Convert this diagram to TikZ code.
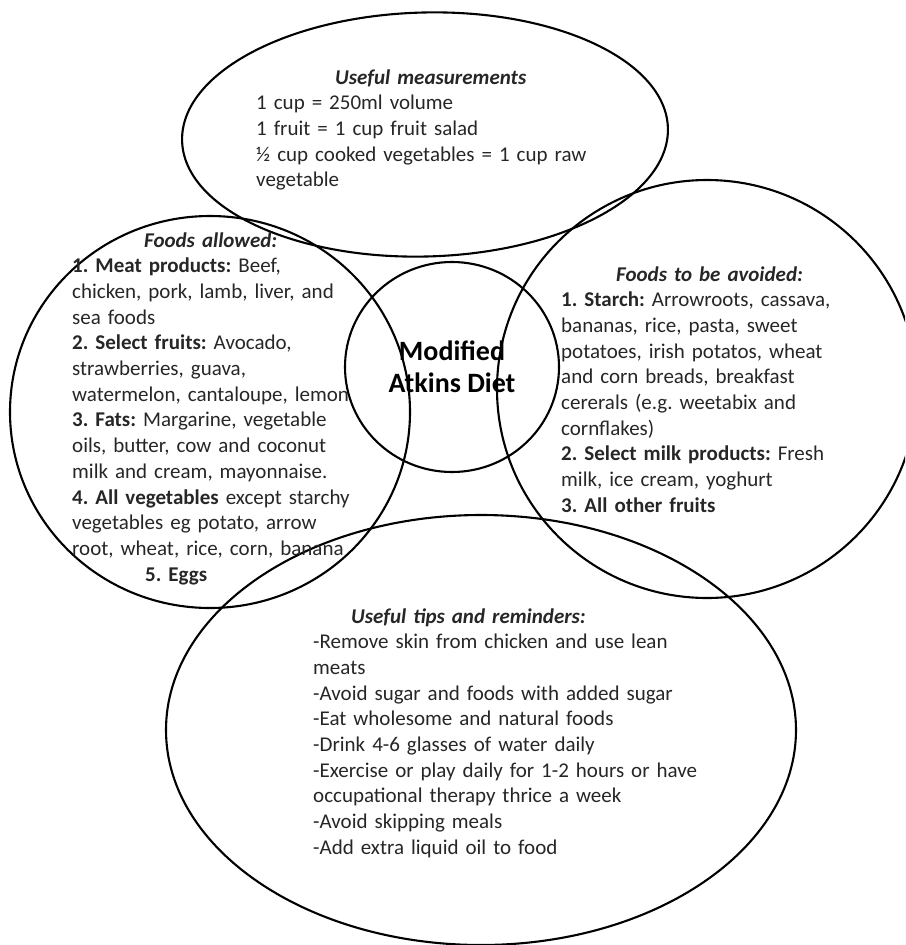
\documentclass[tikz,border=0pt]{standalone}
\usepackage{fontspec}
\setmainfont{Carlito}
\usepackage{tikz}
\usetikzlibrary{shapes.geometric, positioning}
\tikzstyle{bubble} = [ellipse, draw=black, line width=2.1pt, inner sep=0pt]
\tikzstyle{blurb} = [anchor=base west, inner sep=0pt, text width=420pt, align=left, text=black!85, font=\fontsize{21}{25.7}\selectfont\frenchspacing]
\newcommand{\head}[1]{\textbf{\textit{#1}}}

\begin{document}
\begin{tikzpicture}[x=1pt, y=-1pt]

\useasboundingbox (0,0) rectangle (905,945);
\clip (0,0) rectangle (905,945);

\node (meas) [bubble, minimum width=486pt, minimum height=244pt, rotate=1.5] at (425,134.5) {};
\node (allowed) [bubble, minimum width=400pt, minimum height=392pt] at (210,412) {};
\node (avoid) [bubble, minimum width=420pt, minimum height=418pt] at (707,389) {};
\node (tips) [bubble, minimum width=630pt, minimum height=430pt] at (481,730) {};
\node (mad) [bubble, minimum width=214pt, minimum height=210pt, align=center, font=\fontsize{28}{32}\selectfont\bfseries] at (452,367) {Modified\\Atkins Diet};

% texts in the bubbles
\node (meastext) [blurb] at (256,84) {\hspace*{79pt}\head{Useful measurements}\\
1 cup = 250ml volume\\
1 fruit = 1 cup fruit salad\\
½ cup cooked vegetables = 1 cup raw\\
vegetable};

\node (allowedtext) [blurb] at (72,247) {\hspace*{72pt}\head{Foods allowed:}\\
\textbf{1. Meat products:} Beef,\\
chicken, pork, lamb, liver, and\\
sea foods\\
\textbf{2. Select fruits:} Avocado,\\
strawberries, guava,\\
watermelon, cantaloupe, lemon\\
\textbf{3. Fats:} Margarine, vegetable\\
oils, butter, cow and coconut\\
milk and cream, mayonnaise.\\
\textbf{4. All vegetables} except starchy\\
vegetables eg potato, arrow\\
root, wheat, rice, corn, banana\\
\hspace*{73pt}\textbf{5. Eggs}};

\node (avoidtext) [blurb] at (561,281) {\hspace*{55pt}\head{Foods to be avoided:}\\
\textbf{1. Starch:} Arrowroots, cassava,\\
bananas, rice, pasta, sweet\\
potatoes, irish potatos, wheat\\
and corn breads, breakfast\\
cererals (e.g. weetabix and\\
cornflakes)\\
\textbf{2. Select milk products:} Fresh\\
milk, ice cream, yoghurt\\
\textbf{3. All other fruits}};

\node (tipstext) [blurb] at (313,623) {\hspace*{38pt}\head{Useful tips and reminders:}\\
-Remove skin from chicken and use lean\\
meats\\
-Avoid sugar and foods with added sugar\\
-Eat wholesome and natural foods\\
-Drink 4-6 glasses of water daily\\
-Exercise or play daily for 1-2 hours or have\\
occupational therapy thrice a week\\
-Avoid skipping meals\\
-Add extra liquid oil to food};

\end{tikzpicture}
\end{document}
